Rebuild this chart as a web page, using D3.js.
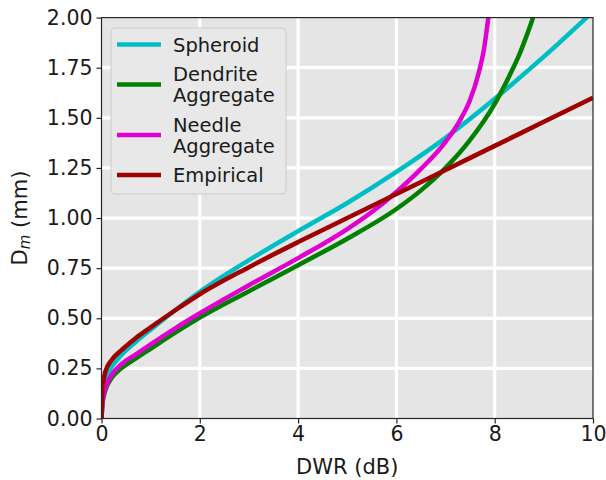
<!DOCTYPE html>
<html>
<head>
<meta charset="utf-8">
<script src="https://cdn.jsdelivr.net/npm/d3@7"></script>
<style>
  body { margin: 0; background: #fff; }
  svg { display: block; font-family: "DejaVu Sans", sans-serif; }
</style>
</head>
<body>
<svg id="chart" width="606" height="480"></svg>
<script>
// values: [DWR (dB), Dm (mm)]
var spheroid = [[0,0],[0.02,0.12],[0.05,0.165],[0.1,0.205],[0.2,0.255],[0.4,0.315],[0.7,0.383],[1,0.443],[1.5,0.54],[2,0.632],[3,0.79],[4,0.935],[5,1.075],[6,1.23],[7,1.4],[8,1.595],[9,1.805],[10,2.03]];
var dendrite = [[0,0],[0.02,0.07],[0.05,0.115],[0.1,0.155],[0.2,0.2],[0.4,0.25],[0.7,0.3],[1,0.348],[1.5,0.428],[2,0.503],[3,0.635],[4,0.765],[5,0.897],[6,1.045],[6.5,1.138],[7,1.25],[7.5,1.39],[8,1.57],[8.3,1.71],[8.5,1.815],[8.65,1.91],[8.78,2.0]];
var needle = [[0,0],[0.02,0.08],[0.05,0.125],[0.1,0.165],[0.2,0.215],[0.4,0.27],[0.7,0.32],[1,0.37],[1.5,0.45],[2,0.525],[3,0.665],[4,0.8],[5,0.945],[5.5,1.03],[6,1.13],[6.5,1.245],[7,1.38],[7.3,1.49],[7.5,1.59],[7.67,1.72],[7.78,1.84],[7.87,2.0]];
var empirical = [[0,0],[0.01,0.1],[0.03,0.165],[0.08,0.235],[0.2,0.29],[0.4,0.34],[0.7,0.402],[1,0.455],[1.5,0.54],[2,0.62],[3,0.755],[4,0.88],[5,1.0],[6,1.12],[7,1.24],[8,1.36],[9,1.48],[10,1.6]];

var seriesNames = [["Spheroid"], ["Dendrite", "Aggregate"], ["Needle", "Aggregate"], ["Empirical"]];
var seriesColors = ["#00bfc4", "#008000", "#e000d0", "#a00000"];
var xTicks = [0, 2, 4, 6, 8, 10];
var yTicks = [0, 0.25, 0.5, 0.75, 1, 1.25, 1.5, 1.75, 2];

var svg = d3.select("#chart");
var margin = {top: 17.6, right: 13, bottom: 61.5, left: 101.5};
var width = 606 - margin.left - margin.right,
    height = 480 - margin.top - margin.bottom;

var xScale = d3.scaleLinear().domain([0, 10]).range([0, width]);
var yScale = d3.scaleLinear().domain([0, 2]).range([height, 0]);

var g = svg.append("g").attr("transform", "translate(" + margin.left + "," + margin.top + ")");

g.append("rect")
    .attr("width", width).attr("height", height)
    .attr("fill", "#e5e5e5");

g.append("clipPath").attr("id", "plotclip")
  .append("rect").attr("width", width).attr("height", height);

// grid
g.selectAll(".gx").data(xTicks.slice(1, -1)).enter().append("line")
    .attr("x1", d => xScale(d)).attr("x2", d => xScale(d))
    .attr("y1", 0).attr("y2", height)
    .attr("stroke", "#fff").attr("stroke-width", 3.2);
g.selectAll(".gy").data(yTicks.slice(1, -1)).enter().append("line")
    .attr("y1", d => yScale(d)).attr("y2", d => yScale(d))
    .attr("x1", 0).attr("x2", width)
    .attr("stroke", "#fff").attr("stroke-width", 3.2);

var line = d3.line()
    .x(d => xScale(d[0]))
    .y(d => yScale(d[1]))
    .curve(d3.curveMonotoneX);

var allSeries = [spheroid, dendrite, needle, empirical];
g.append("g").attr("clip-path", "url(#plotclip)")
  .selectAll("path").data(allSeries).enter().append("path")
    .attr("d", line)
    .attr("fill", "none")
    .attr("stroke", (d, i) => seriesColors[i])
    .attr("stroke-width", 4.5)
    .attr("stroke-linecap", "butt");

// frame
g.append("rect")
    .attr("width", width).attr("height", height)
    .attr("fill", "none").attr("stroke", "#262626").attr("stroke-width", 1.2);

var xAxis = g.append("g")
    .attr("transform", "translate(0," + height + ")")
    .call(d3.axisBottom(xScale).tickValues(xTicks).tickSize(5).tickPadding(3).tickFormat(d3.format("d")));
var yAxis = g.append("g")
    .call(d3.axisLeft(yScale).tickValues(yTicks).tickSize(5).tickPadding(4).tickFormat(d3.format(".2f")));

[xAxis, yAxis].forEach(function(a) {
  a.select(".domain").remove();
  a.selectAll(".tick line").attr("stroke", "#262626").attr("stroke-width", 1.2);
  a.selectAll(".tick text").attr("fill", "#1a1a1a").style("font-size", "20.5px").style("font-family", "DejaVu Sans");
});

svg.append("text")
    .attr("x", margin.left + width / 2).attr("y", 474)
    .attr("text-anchor", "middle")
    .attr("fill", "#1a1a1a")
    .style("font-size", "21px")
    .text("DWR (dB)");

var ylab = svg.append("text")
    .attr("transform", "translate(27," + (margin.top + height / 2) + ") rotate(-90)")
    .attr("text-anchor", "middle")
    .attr("fill", "#1a1a1a")
    .style("font-size", "21px");
ylab.append("tspan").text("D");
ylab.append("tspan").text("m").attr("font-style", "italic").style("font-size", "15px").attr("dy", 3);
ylab.append("tspan").text(" (mm)").attr("dy", -3);

// legend
var legend = svg.append("g");
legend.append("rect")
    .attr("x", 111).attr("y", 28).attr("width", 175).attr("height", 166)
    .attr("rx", 4)
    .attr("fill", "#e8e8e8").attr("stroke", "#cccccc").attr("stroke-width", 1);

var baseline = 51.5;
seriesNames.forEach(function(lines, i) {
  var first = baseline;
  lines.forEach(function(t, k) {
    legend.append("text")
        .attr("x", 173).attr("y", baseline)
        .attr("fill", "#1a1a1a")
        .style("font-size", "19.5px")
        .text(t);
    if (k < lines.length - 1) baseline += 21;
  });
  var last = baseline;
  var ly = (first + last) / 2 - 7;
  legend.append("line")
      .attr("x1", 117).attr("x2", 161)
      .attr("y1", ly).attr("y2", ly)
      .attr("stroke", seriesColors[i]).attr("stroke-width", 4.5);
  baseline += 29.5;
});
</script>
</body>
</html>
